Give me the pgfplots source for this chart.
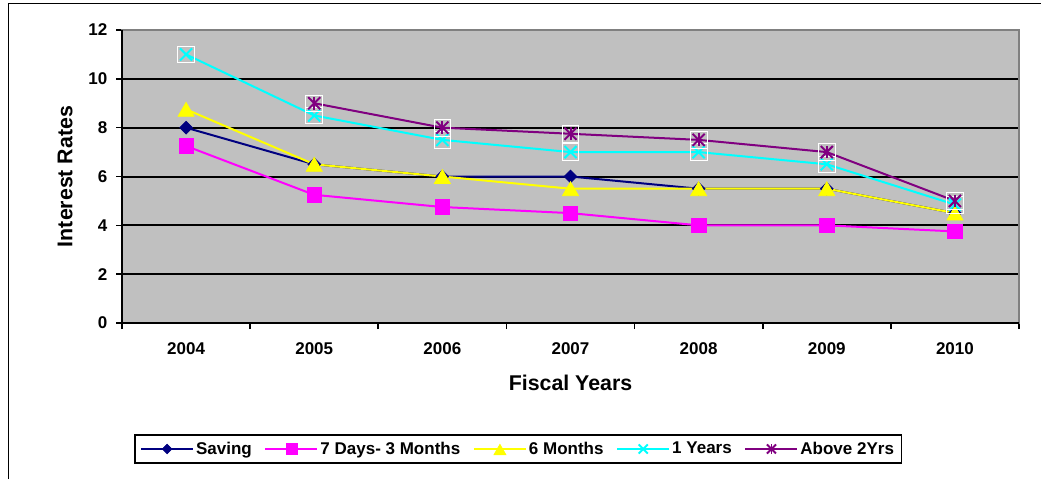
\documentclass[border=0pt]{standalone}
\usepackage{fontspec}
\setmainfont{Liberation Sans}
\usepackage{pgfplots}
\pgfplotsset{compat=1.18}
\definecolor{plotbg}{HTML}{C0C0C0}
\definecolor{sav}{HTML}{000080}
\definecolor{sev}{HTML}{FF00FF}
\definecolor{six}{HTML}{FFFF00}
\definecolor{one}{HTML}{00FFFF}
\definecolor{abv}{HTML}{800080}
\definecolor{brd}{HTML}{808080}
\pgfplotsset{
  starlegend/.style={legend image code/.code={\draw[mark repeat=2,mark phase=2,/tikz/every mark/.append style={scale=0.75},##1] plot coordinates {(0pt,0pt)(19.5pt,0pt)(39pt,0pt)}; \draw[abv, line width=1.2pt] (19.5pt,-3.6pt) -- (19.5pt,3.6pt);}},
}
\begin{document}
\begin{tikzpicture}
\useasboundingbox (0,0) rectangle (780.75pt,359.25pt);
\draw[black, line width=0.75pt] (6pt,0) -- (6pt,356.25pt) -- (780.75pt,356.25pt);
\begin{axis}[
  at={(91.5pt,117pt)}, anchor=south west,
  scale only axis, width=672.75pt, height=219.75pt,
  clip=false,
  xmin=-0.5, xmax=6.5, ymin=0, ymax=12,
  xtick={0,...,6}, xticklabels={2004,2005,2006,2007,2008,2009,2010},
  minor xtick={-0.5,0.5,...,6.5},
  ytick={0,2,...,12},
  xtick pos=bottom, ytick pos=left,
  tick align=outside, major tick length=4.5pt, minor tick length=4.5pt,
  major x tick style={draw=none},
  tick style={black, line width=1.2pt},
  ymajorgrids, grid style={black, line width=1.5pt},
  axis background/.style={fill=plotbg},
  axis line style={draw=brd, line width=1.5pt},
  ticklabel style={font=\fontsize{12.75}{15}\selectfont\bfseries},
  /pgf/number format/assume math mode=true,
  xticklabel style={yshift=-7pt},
  yticklabel style={xshift=-3pt},
  xlabel={Fiscal Years}, ylabel={Interest Rates},
  label style={font=\fontsize{16}{19}\selectfont\bfseries},
  xlabel style={at={(axis description cs:0.5,-0.2048)}, anchor=center},
  ylabel style={at={(axis description cs:-0.0635,0.5)}, anchor=center},
  legend columns=5,
  legend style={at={(axis description cs:0.4415,-0.43)}, anchor=center,
    draw=black, line width=1.2pt, font=\fontsize{12.75}{15}\selectfont\bfseries,
    inner xsep=4pt, inner ysep=3pt,
    nodes={inner xsep=1.5pt},
    /tikz/every even column/.append style={column sep=8pt}},
  legend image code/.code={\draw[mark repeat=2,mark phase=2,/tikz/every mark/.append style={scale=0.75},#1] plot coordinates {(0pt,0pt)(19.5pt,0pt)(39pt,0pt)};},
]
\addplot[sav, line width=1.5pt, mark=square*, mark size=3.4pt, mark options={fill=sav, draw=sav, line width=0.5pt, rotate=45}]
  coordinates {(0,8)(1,6.5)(2,6)(3,6)(4,5.5)(5,5.5)(6,4.5)};
\addlegendentry{Saving}
\addplot[sev, line width=1.5pt, mark=square*, mark size=5.4pt, mark options={fill=sev, draw=sev, line width=0.5pt}]
  coordinates {(0,7.25)(1,5.25)(2,4.75)(3,4.5)(4,4)(5,4)(6,3.75)};
\addlegendentry{7 Days- 3 Months}
\addplot[six, line width=1.5pt, mark=triangle*, mark size=7pt, mark options={fill=six, draw=six, line width=0.5pt, yshift=-1.75pt}]
  coordinates {(0,8.75)(1,6.5)(2,6)(3,5.5)(4,5.5)(5,5.5)(6,4.5)};
\addlegendentry{6 Months}
\addplot[forget plot, only marks, mark=square, mark size=6.25pt, mark options={draw=white, line width=0.6pt}]
  coordinates {(0,11)(1,8.5)(2,7.5)(3,7)(4,7)(5,6.5)(6,4.85)};
\addplot[one, line width=1.5pt, mark=x, mark size=6.4pt, mark options={draw=one, line width=1.5pt}]
  coordinates {(0,11)(1,8.5)(2,7.5)(3,7)(4,7)(5,6.5)(6,4.85)};
\addlegendentry{1 Years}
\addplot[forget plot, only marks, mark=square, mark size=6.25pt, mark options={draw=white, line width=0.6pt}]
  coordinates {(1,9)(2,8)(3,7.75)(4,7.5)(5,7)(6,5)};
\addplot[abv, line width=1.5pt, mark=x, mark size=6.4pt, mark options={draw=abv, line width=1.5pt}, starlegend]
  coordinates {(1,9)(2,8)(3,7.75)(4,7.5)(5,7)(6,5)};
\addlegendentry{Above 2Yrs}
\addplot[forget plot, only marks, mark=|, mark size=4.8pt, mark options={draw=abv, line width=1.5pt}]
  coordinates {(1,9)(2,8)(3,7.75)(4,7.5)(5,7)(6,5)};
\draw[black, line width=1.5pt] (rel axis cs:0,1) -- (rel axis cs:0,0) -- (rel axis cs:1,0);
\end{axis}
\end{tikzpicture}
\end{document}
